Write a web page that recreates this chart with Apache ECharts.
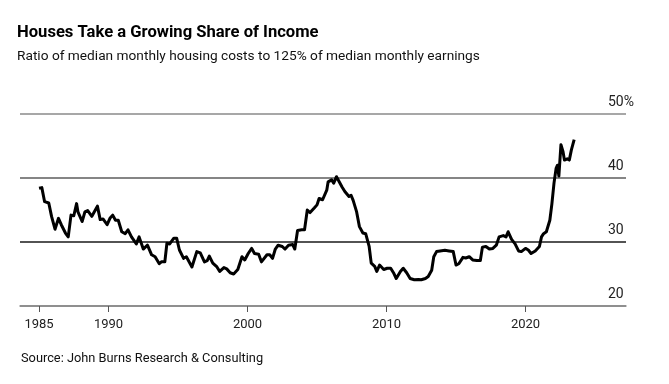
<!DOCTYPE html>
<html>
<head>
<meta charset="utf-8">
<script src="https://cdn.jsdelivr.net/npm/echarts@6/dist/echarts.min.js"></script>
<style>
html,body{margin:0;padding:0;background:#fff;}
#chart{width:669px;height:384px;}
</style>
</head>
<body>
<div id="chart"></div>
<script>
const years = [1985.0,1985.2,1985.4,1985.7,1985.9,1986.15,1986.4,1986.6,1986.9,1987.1,1987.3,1987.5,1987.7,1987.8,1988.1,1988.3,1988.5,1988.8,1988.95,1989.2,1989.4,1989.6,1989.9,1990.1,1990.3,1990.5,1990.7,1990.95,1991.2,1991.4,1991.65,1992.0,1992.2,1992.5,1992.8,1993.1,1993.35,1993.65,1993.8,1994.05,1994.2,1994.4,1994.7,1994.9,1995.1,1995.4,1995.6,1996.0,1996.35,1996.6,1996.9,1997.1,1997.25,1997.5,1997.8,1998.0,1998.3,1998.5,1998.75,1999.0,1999.3,1999.6,1999.8,2000.05,2000.3,2000.5,2000.8,2001.0,2001.4,2001.6,2001.8,2002.0,2002.2,2002.5,2002.7,2002.95,2003.25,2003.4,2003.6,2003.9,2004.1,2004.3,2004.5,2004.8,2005.0,2005.15,2005.4,2005.7,2005.8,2006.05,2006.2,2006.4,2006.5,2006.8,2007.0,2007.3,2007.45,2007.6,2007.85,2008.05,2008.3,2008.5,2008.75,2008.9,2009.15,2009.3,2009.5,2009.8,2010.05,2010.3,2010.5,2010.7,2011.0,2011.2,2011.45,2011.7,2012.0,2012.3,2012.5,2012.8,2013.0,2013.25,2013.4,2013.6,2013.85,2014.2,2014.5,2014.8,2015.0,2015.2,2015.5,2015.7,2015.95,2016.2,2016.5,2016.75,2016.9,2017.15,2017.4,2017.65,2017.9,2018.1,2018.4,2018.6,2018.75,2019.0,2019.25,2019.5,2019.7,2020.0,2020.2,2020.4,2020.7,2021.0,2021.15,2021.3,2021.5,2021.75,2021.9,2022.05,2022.2,2022.3,2022.4,2022.55,2022.7,2022.8,2023.0,2023.15,2023.3,2023.5];
const ratio = [38.4,38.5,36.3,36.1,34.0,32.0,33.7,32.7,31.4,30.8,34.2,34.1,36.0,34.7,33.2,34.7,34.9,34.0,34.6,35.6,33.5,33.6,32.7,33.7,34.2,33.4,33.4,31.6,31.3,31.9,30.8,29.7,30.8,28.9,29.5,28.0,27.7,26.6,26.9,26.9,29.8,29.7,30.6,30.6,28.75,27.45,27.7,26.1,28.5,28.3,26.9,27.1,27.8,26.7,26.1,25.4,26.0,25.8,25.2,25.0,25.7,27.7,27.2,28.2,29.0,28.2,28.1,26.9,28.0,28.0,27.45,28.9,29.5,29.3,28.9,29.5,29.6,28.9,31.8,31.9,31.9,35.0,34.6,35.3,35.8,36.8,36.6,38.1,39.4,39.7,39.2,40.2,40.2,38.6,37.9,37.1,37.3,36.5,34.7,32.4,31.4,31.3,29.3,26.7,26.2,25.4,26.4,25.7,25.9,25.9,25.2,24.3,25.4,25.9,25.2,24.3,24.1,24.15,24.1,24.3,24.6,25.6,27.7,28.5,28.6,28.7,28.6,28.5,26.4,26.6,27.6,27.5,27.7,27.2,27.1,27.1,29.2,29.3,28.9,29.0,29.5,30.8,31.0,30.8,31.6,30.4,29.7,28.6,28.5,29.0,28.75,28.2,28.6,29.3,30.8,31.3,31.6,33.4,36.0,39.2,41.5,42.0,40.3,45.2,44.1,42.8,43.0,42.8,44.4,46.0];
const xTicks = [1985, 1990, 2000, 2010, 2020];
const yTicks = [20, 30, 40, 50];

const chart = echarts.init(document.getElementById('chart'), null, {renderer: 'canvas'});
const font = 'Roboto, "Liberation Sans", Arial, sans-serif';
chart.setOption({
  animation: false,
  backgroundColor: '#fff',
  title: [
    {text: 'Houses Take a Growing Share of Income', left: 17, top: 24, padding: 0,
     textStyle: {fontFamily: font, fontWeight: 'bold', fontSize: 16.6, color: '#000'}},
    {text: 'Ratio of median monthly housing costs to 125% of median monthly earnings', left: 17, top: 50, padding: 0,
     textStyle: {fontFamily: font, fontWeight: 'normal', fontSize: 13.7, color: '#111'}},
    {text: 'Source: John Burns Research & Consulting', left: 21, top: 352, padding: 0,
     textStyle: {fontFamily: font, fontWeight: 'normal', fontSize: 12.8, color: '#111'}}
  ],
  grid: {left: 20, right: 43, top: 114, bottom: 78},
  xAxis: {
    type: 'value', min: 1983.63, max: 2027.23,
    axisLine: {show: true, lineStyle: {color: '#888', width: 1.5}},
    axisTick: {show: true, customValues: xTicks, length: 6, lineStyle: {color: '#555', width: 1}},
    axisLabel: {customValues: xTicks, margin: 12, fontFamily: font, fontSize: 13, color: '#222',
                formatter: v => String(v)},
    splitLine: {show: false}
  },
  yAxis: {
    type: 'value', position: 'right', min: 20, max: 50, interval: 10,
    axisLine: {show: false}, axisTick: {show: false},
    axisLabel: {inside: true, align: 'left', verticalAlign: 'bottom', margin: 18, padding: [0,0,5,0],
                fontFamily: font, fontSize: 14, color: '#222',
                formatter: v => v === 50 ? v + '%' : String(v)},
    splitLine: {show: true, lineStyle: {color: ['#8a8a8a', '#1a1a1a', '#5c5c5c', '#8a8a8a'], width: 1.5}}
  },
  series: [{
    type: 'line', data: years.map((y, i) => [y, ratio[i]]),
    showSymbol: false, symbol: 'none',
    lineStyle: {color: '#000', width: 3, join: 'round'}
  }]
});
</script>
</body>
</html>
